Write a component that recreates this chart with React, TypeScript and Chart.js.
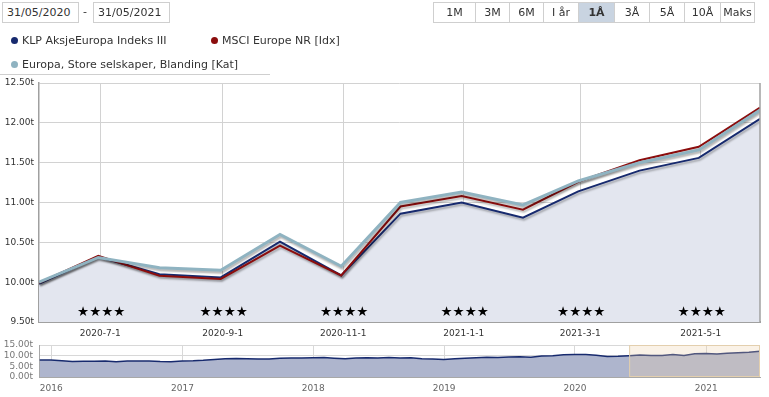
import React, { useEffect, useRef } from 'react';
import { Chart, registerables } from 'chart.js';

Chart.register(...registerables);

const FONT = '"DejaVu Sans", Verdana, sans-serif';

// ---- data ----
const seriesDates = [
  '2020-05-31', '2020-06-30', '2020-07-31', '2020-08-31', '2020-09-30', '2020-10-31',
  '2020-11-30', '2020-12-31', '2021-01-31', '2021-02-28', '2021-03-31', '2021-04-30', '2021-05-31',
];
const klpValues = [9980, 10320, 10100, 10060, 10510, 10085, 10860, 11000, 10810, 11140, 11400, 11560, 12050];
const msciValues = [9990, 10330, 10080, 10040, 10460, 10085, 10950, 11080, 10910, 11260, 11530, 11700, 12190];
const categoryValues = [10000, 10310, 10180, 10150, 10600, 10200, 11000, 11130, 10970, 11270, 11500, 11660, 12160];
const seriesNames = ['KLP AksjeEuropa Indeks III', 'MSCI Europe NR [Idx]', 'Europa, Store selskaper, Blanding [Kat]'];
const seriesColors = ['#172a6e', '#8b0d0d', '#8fb3c1'];
const fillColor = '#e3e6ef';

const xTickLabels = ['2020-7-1', '2020-9-1', '2020-11-1', '2021-1-1', '2021-3-1', '2021-5-1'];
const starRatings = [4, 4, 4, 4, 4, 4];
const yTicks = [9500, 10000, 10500, 11000, 11500, 12000, 12500];

const navDates = [
  '2015-11-30', '2015-12-31',
  '2016-01-31', '2016-02-29', '2016-03-31', '2016-04-30', '2016-05-31', '2016-06-30',
  '2016-07-31', '2016-08-31', '2016-09-30', '2016-10-31', '2016-11-30', '2016-12-31',
  '2017-01-31', '2017-02-28', '2017-03-31', '2017-04-30', '2017-05-31', '2017-06-30',
  '2017-07-31', '2017-08-31', '2017-09-30', '2017-10-31', '2017-11-30', '2017-12-31',
  '2018-01-31', '2018-02-28', '2018-03-31', '2018-04-30', '2018-05-31', '2018-06-30',
  '2018-07-31', '2018-08-31', '2018-09-30', '2018-10-31', '2018-11-30', '2018-12-31',
  '2019-01-31', '2019-02-28', '2019-03-31', '2019-04-30', '2019-05-31', '2019-06-30',
  '2019-07-31', '2019-08-31', '2019-09-30', '2019-10-31', '2019-11-30', '2019-12-31',
  '2020-01-31', '2020-02-29', '2020-03-31', '2020-04-30', '2020-05-31', '2020-06-30',
  '2020-07-31', '2020-08-31', '2020-09-30', '2020-10-31', '2020-11-30', '2020-12-31',
  '2021-01-31', '2021-02-28', '2021-03-31', '2021-04-30', '2021-05-31',
];
const navValues = [
  8000, 7980,
  7600, 7250, 7350, 7400, 7450, 7200,
  7450, 7500, 7450, 7250, 7200, 7550,
  7600, 7800, 8200, 8500, 8700, 8550,
  8450, 8400, 8750, 8950, 8900, 9050,
  9100, 8800, 8550, 8950, 9000, 8850,
  9100, 8950, 9050, 8550, 8400, 8200,
  8500, 8800, 9000, 9300, 9100, 9400,
  9450, 9300, 9850, 10000, 10400, 10500,
  10600, 10200, 9600, 9700, 9980, 10320,
  10100, 10060, 10510, 10085, 10860, 11000,
  10810, 11140, 11400, 11560, 12050,
];
const navYearLabels = ['2016', '2017', '2018', '2019', '2020', '2021'];
const navYTicks = [0, 5000, 10000, 15000];
const navStart = '2015-11-28';

const rangeButtons = ['1M', '3M', '6M', 'I år', '1Å', '3Å', '5Å', '10Å', 'Maks'];
const rangeButtonWidths = [43, 35, 35, 36, 37, 36, 36, 37, 35];
const selectedRange = '1Å';
const startDateText = '31/05/2020';
const endDateText = '31/05/2021';

// ---- helpers ----
const parseDate = (s: string) => {
  const [y, m, d] = s.split('-').map(Number);
  return Date.UTC(y, m - 1, d);
};
const fmtT = (v: number) => (v / 1000).toFixed(2) + 't';

const W = 769;
const H = 397;

export default function App() {
  const mainRef = useRef<HTMLCanvasElement | null>(null);
  const navRef = useRef<HTMLCanvasElement | null>(null);

  useEffect(() => {
    const xMin = parseDate(seriesDates[0]);
    const xMax = parseDate(seriesDates[seriesDates.length - 1]);
    const xTickValues = xTickLabels.map(parseDate);

    const toPts = (vals: number[]) => seriesDates.map((d, i) => ({ x: parseDate(d), y: vals[i] }));

    const shadowPlugin = {
      id: 'lineShadow',
      beforeDatasetDraw(chart: any) {
        const ctx = chart.ctx;
        ctx.save();
        ctx.shadowColor = 'rgba(0,0,0,0.3)';
        ctx.shadowOffsetX = 1;
        ctx.shadowOffsetY = 2;
        ctx.shadowBlur = 2;
      },
      afterDatasetDraw(chart: any) {
        chart.ctx.restore();
      },
    };

    const decoPlugin = {
      id: 'deco',
      afterDatasetsDraw(chart: any) {
        const { ctx, chartArea, scales } = chart;
        ctx.save();
        ctx.font = `13.5px ${FONT}`;
        ctx.fillStyle = '#000';
        ctx.textAlign = 'center';
        ctx.textBaseline = 'middle';
        xTickValues.forEach((v, i) => {
          const x = scales.x.getPixelForValue(v);
          ctx.fillText('★'.repeat(starRatings[i]), x + 1, chartArea.bottom - 10);
        });
        ctx.strokeStyle = '#a0a0a0';
        ctx.lineWidth = 1.5;
        ctx.beginPath();
        ctx.moveTo(chartArea.right, chartArea.top);
        ctx.lineTo(chartArea.right, chartArea.bottom);
        ctx.stroke();
        ctx.restore();
      },
    };

    const main = new Chart(mainRef.current as HTMLCanvasElement, {
      type: 'line',
      data: {
        datasets: [
          {
            label: seriesNames[2],
            data: toPts(categoryValues),
            borderColor: seriesColors[2],
            borderWidth: 3,
            pointRadius: 0,
            fill: false,
            order: 0,
          },
          {
            label: seriesNames[1],
            data: toPts(msciValues),
            borderColor: seriesColors[1],
            borderWidth: 2,
            pointRadius: 0,
            fill: false,
            order: 1,
          },
          {
            label: seriesNames[0],
            data: toPts(klpValues),
            borderColor: seriesColors[0],
            borderWidth: 2,
            pointRadius: 0,
            fill: 'start',
            backgroundColor: fillColor,
            order: 2,
          },
        ],
      },
      options: {
        animation: false,
        responsive: false,
        events: [],
        layout: { padding: { top: 83, right: 9, bottom: 55, left: 0 } },
        plugins: { legend: { display: false }, tooltip: { enabled: false } },
        scales: {
          x: {
            type: 'linear',
            min: xMin,
            max: xMax,
            afterBuildTicks: (s: any) => {
              s.ticks = xTickValues.map((v) => ({ value: v }));
            },
            afterFit: (s: any) => {
              s.height = 20;
            },
            ticks: {
              callback: (_v: any, i: number) => xTickLabels[i],
              font: { family: FONT, size: 9 },
              color: '#333',
              padding: 6,
              maxRotation: 0,
              autoSkip: false,
            },
            grid: { color: '#d2d2d2', drawTicks: false },
            border: { color: '#a0a0a0', width: 2 },
          },
          y: {
            min: 9500,
            max: 12500,
            afterBuildTicks: (s: any) => {
              s.ticks = yTicks.map((v) => ({ value: v }));
            },
            afterFit: (s: any) => {
              s.width = 39;
            },
            ticks: {
              callback: (v: any) => fmtT(Number(v)),
              font: { family: FONT, size: 9 },
              color: '#333',
              padding: 5,
              autoSkip: false,
            },
            grid: { color: '#d2d2d2', drawTicks: false },
            border: { color: '#a0a0a0', width: 1.5 },
          },
        },
      },
      plugins: [shadowPlugin, decoPlugin],
    } as any);

    const navYearValues = navYearLabels.map((y) => Date.UTC(Number(y), 0, 1));
    const rangePlugin = {
      id: 'range',
      afterDatasetsDraw(chart: any) {
        const { ctx, chartArea, scales } = chart;
        const x0 = scales.x.getPixelForValue(xMin);
        const x1 = scales.x.getPixelForValue(xMax);
        ctx.save();
        ctx.fillStyle = 'rgba(236,210,170,0.28)';
        ctx.fillRect(x0, chartArea.top, x1 - x0, chartArea.bottom - chartArea.top);
        ctx.strokeStyle = '#e3cfae';
        ctx.lineWidth = 1;
        ctx.strokeRect(x0 + 0.5, chartArea.top + 0.5, x1 - x0 - 1, chartArea.bottom - chartArea.top - 1);
        ctx.restore();
      },
    };

    const nav = new Chart(navRef.current as HTMLCanvasElement, {
      type: 'line',
      data: {
        datasets: [
          {
            data: navDates.map((d, i) => ({ x: parseDate(d), y: navValues[i] })),
            borderColor: seriesColors[0],
            borderWidth: 1.5,
            pointRadius: 0,
            fill: 'start',
            backgroundColor: '#aeb5cd',
          },
        ],
      },
      options: {
        animation: false,
        responsive: false,
        events: [],
        layout: { padding: { top: 345, right: 9, bottom: 2, left: 0 } },
        plugins: { legend: { display: false }, tooltip: { enabled: false } },
        scales: {
          x: {
            type: 'linear',
            min: parseDate(navStart),
            max: xMax,
            afterBuildTicks: (s: any) => {
              s.ticks = navYearValues.map((v) => ({ value: v }));
            },
            afterFit: (s: any) => {
              s.height = 18;
            },
            ticks: {
              callback: (_v: any, i: number) => navYearLabels[i],
              font: { family: FONT, size: 9 },
              color: '#666',
              padding: 6,
              maxRotation: 0,
              autoSkip: false,
            },
            grid: { color: '#d8d8d8', drawTicks: false },
            border: { color: '#a8a8a8', width: 1 },
          },
          y: {
            min: 0,
            max: 15000,
            afterBuildTicks: (s: any) => {
              s.ticks = navYTicks.map((v) => ({ value: v }));
            },
            afterFit: (s: any) => {
              s.width = 39;
            },
            ticks: {
              callback: (v: any) => fmtT(Number(v)),
              font: { family: FONT, size: 9, lineHeight: 1 },
              color: '#777',
              padding: 6,
              autoSkip: false,
            },
            grid: { color: '#d8d8d8', drawTicks: false },
            border: { color: '#a8a8a8', width: 1 },
          },
        },
      },
      plugins: [rangePlugin],
    } as any);

    return () => {
      main.destroy();
      nav.destroy();
    };
  }, []);

  const text: React.CSSProperties = { fontFamily: FONT, fontSize: 11, color: '#333' };
  const dateBox = (left: number): React.CSSProperties => ({
    position: 'absolute',
    left,
    top: 2,
    width: 77,
    height: 21,
    boxSizing: 'border-box',
    border: '1px solid #cfcfcf',
    paddingLeft: 4,
    lineHeight: '19px',
    background: '#fff',
    ...text,
  });

  const legendItem = (left: number, top: number, color: string, label: string) => (
    <div key={label} style={{ position: 'absolute', left, top, height: 14, ...text, lineHeight: '14px', whiteSpace: 'nowrap' }}>
      <span
        style={{
          position: 'absolute',
          left: 0,
          top: 3,
          width: 7,
          height: 7,
          borderRadius: '50%',
          background: color,
        }}
      />
      <span style={{ position: 'absolute', left: 11, top: 0 }}>{label}</span>
    </div>
  );

  return (
    <div style={{ position: 'absolute', left: 0, top: 0, width: W, height: H, background: '#fff', overflow: 'hidden' }}>
      <canvas ref={mainRef} width={W} height={H} style={{ position: 'absolute', left: 0, top: 0, width: W, height: H }} />
      <canvas ref={navRef} width={W} height={H} style={{ position: 'absolute', left: 0, top: 0, width: W, height: H }} />
      <div style={dateBox(2)}>{startDateText}</div>
      <div style={{ position: 'absolute', left: 83, top: 5, ...text }}>-</div>
      <div style={dateBox(93)}>{endDateText}</div>
      <div style={{ position: 'absolute', left: 433, top: 2, display: 'flex', height: 21 }}>
        {rangeButtons.map((b, i) => (
          <div
            key={b}
            style={{
              width: rangeButtonWidths[i],
              height: 21,
              boxSizing: 'border-box',
              border: '1px solid #cfcfcf',
              marginLeft: i === 0 ? 0 : -1,
              background: b === selectedRange ? '#c9d4e1' : '#fff',
              fontWeight: b === selectedRange ? 'bold' : 'normal',
              textAlign: 'center',
              lineHeight: '19px',
              ...text,
            }}
          >
            {b}
          </div>
        ))}
      </div>
      {legendItem(11, 34, seriesColors[0], seriesNames[0])}
      {legendItem(211, 34, seriesColors[1], seriesNames[1])}
      {legendItem(11, 58, seriesColors[2], seriesNames[2])}
      <div style={{ position: 'absolute', left: 0, top: 74, width: 270, height: 1, background: '#cfcfcf' }} />
    </div>
  );
}
